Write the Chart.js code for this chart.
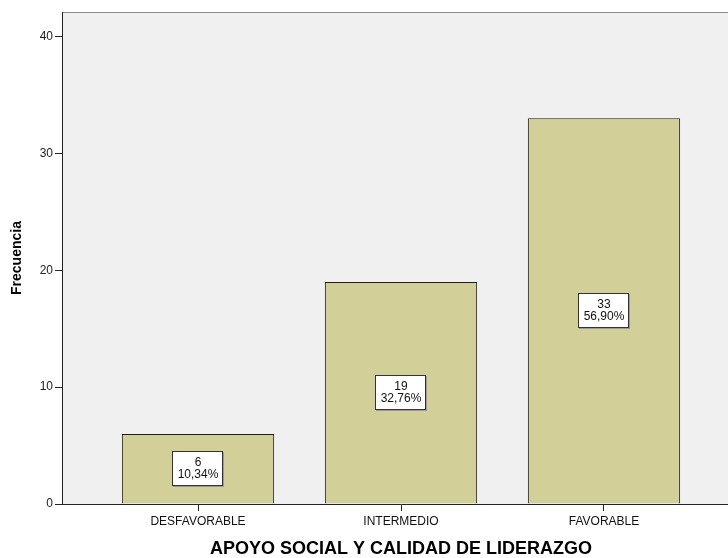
<!DOCTYPE html>
<html>
<head>
<meta charset="utf-8">
<title>Apoyo social y calidad de liderazgo</title>
<script src="https://cdn.jsdelivr.net/npm/chart.js@4/dist/chart.umd.min.js"></script>
<style>
  html, body { margin: 0; padding: 0; background: #fff; overflow: hidden; }
  #wrap { width: 728px; height: 558px; overflow: hidden; }
</style>
</head>
<body>
<div id="wrap"><canvas id="chart" width="740" height="558"></canvas></div>
<script>
// data
const categories = ["DESFAVORABLE", "INTERMEDIO", "FAVORABLE"];
const frequencies = [6, 19, 33];
const percents = [10.34, 32.76, 56.90];
const yTicks = [0, 10, 20, 30, 40];

const FONT = "'Liberation Sans', Arial, sans-serif";

// grey plot area with a thin top frame line
const plotBackground = {
  id: "plotBackground",
  beforeDraw(chart) {
    const { ctx, chartArea: a } = chart;
    ctx.save();
    ctx.fillStyle = "#f0f0f0";
    ctx.fillRect(a.left, a.top, a.right - a.left, a.bottom - a.top);
    ctx.strokeStyle = "#8a8a8a";
    ctx.lineWidth = 1;
    ctx.beginPath();
    ctx.moveTo(a.left, a.top + 0.5);
    ctx.lineTo(a.right, a.top + 0.5);
    ctx.stroke();
    ctx.restore();
  }
};

// white boxes with count and percentage in the middle of each bar
const barLabels = {
  id: "barLabels",
  afterDatasetsDraw(chart) {
    const { ctx } = chart;
    const meta = chart.getDatasetMeta(0);
    ctx.save();
    ctx.font = "12px " + FONT;
    ctx.textAlign = "center";
    ctx.textBaseline = "middle";
    meta.data.forEach((bar, i) => {
      const l1 = String(frequencies[i]);
      const l2 = percents[i].toFixed(2).replace(".", ",") + "%";
      const w = Math.round(ctx.measureText(l2).width) + 10;
      const h = 35;
      const cx = Math.round(bar.x);
      const cy = Math.round((bar.y + bar.base) / 2);
      const x0 = cx - Math.round(w / 2), y0 = cy - Math.round(h / 2);
      ctx.fillStyle = "#9a9a9a";
      ctx.fillRect(x0 + 1, y0 + 1, w, h);
      ctx.fillStyle = "#ffffff";
      ctx.fillRect(x0, y0, w, h);
      ctx.strokeStyle = "#333333";
      ctx.lineWidth = 1;
      ctx.strokeRect(x0 + 0.5, y0 + 0.5, w - 1, h - 1);
      ctx.fillStyle = "#111111";
      ctx.fillText(l1, cx, cy - 6);
      ctx.fillText(l2, cx, cy + 6);
    });
    ctx.restore();
  }
};

new Chart(document.getElementById("chart"), {
  type: "bar",
  data: {
    datasets: [{
      data: frequencies.map((v, i) => ({ x: i + 1, y: v })),
      backgroundColor: "#d3cf98",
      borderColor: "#1e1e1e",
      borderWidth: 1,
      borderSkipped: "bottom",
      barPercentage: 0.75,
      categoryPercentage: 1
    }]
  },
  options: {
    responsive: false,
    animation: false,
    layout: { padding: { top: 12, left: 0, right: 0, bottom: 0 } },
    plugins: { legend: { display: false }, tooltip: { enabled: false } },
    scales: {
      x: {
        type: "linear",
        offset: false,
        min: 0.33,
        max: 3.67,
        afterBuildTicks(scale) { scale.ticks = [1, 2, 3].map(v => ({ value: v })); },
        afterFit(scale) { scale.height = 54; },
        grid: { offset: false, drawOnChartArea: false, drawTicks: true, tickLength: 7, color: "#222" },
        border: { color: "#222", width: 1 },
        ticks: {
          autoSkip: false, maxRotation: 0, padding: 3,
          color: "#111", font: { family: FONT, size: 12 },
          callback: v => categories[v - 1]
        },
        title: {
          display: true, text: "APOYO SOCIAL Y CALIDAD DE LIDERAZGO",
          color: "#000", font: { family: FONT, size: 18, weight: "bold", lineHeight: 1 },
          padding: { top: 0, bottom: 0 }
        }
      },
      y: {
        min: 0,
        max: 42.1,
        afterBuildTicks(scale) { scale.ticks = yTicks.map(v => ({ value: v })); },
        afterFit(scale) { scale.width = 62; },
        grid: { drawOnChartArea: false, drawTicks: true, tickLength: 7, color: "#222" },
        border: { color: "#222", width: 1 },
        ticks: { padding: 2, color: "#222", font: { family: FONT, size: 12 } },
        title: {
          display: true, text: "Frecuencia",
          color: "#000", font: { family: FONT, size: 14, weight: "bold" },
          padding: { top: 9, bottom: 0 }
        }
      }
    }
  },
  plugins: [plotBackground, barLabels]
});
</script>
</body>
</html>
